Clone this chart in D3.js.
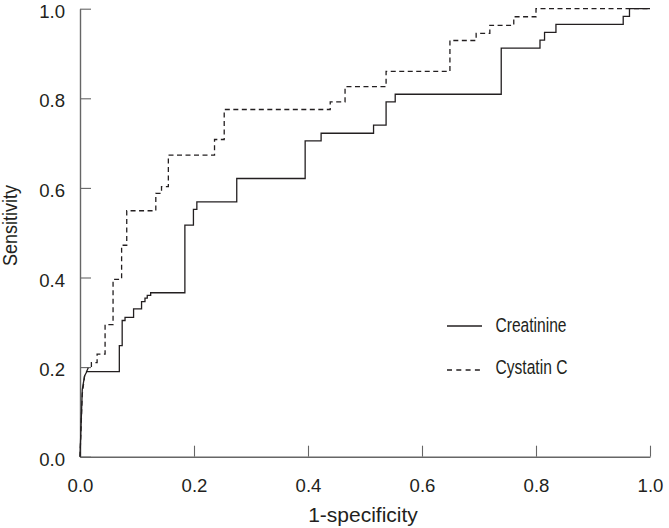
<!DOCTYPE html>
<html>
<head>
<meta charset="utf-8">
<script src="https://cdn.jsdelivr.net/npm/d3@7"></script>
<style>
  body { margin: 0; background: #fff; }
  text { font-family: "Liberation Sans", Arial, sans-serif; fill: #231f20; }
</style>
</head>
<body>
<svg id="chart" width="669" height="528"></svg>
<script>
// ROC curve step points, [1-specificity, sensitivity]
var creatinine = [
    [0, 0], [0.004, 0.15], [0.008, 0.18], [0.012, 0.19], [0.069, 0.19], [0.069, 0.248],
    [0.074, 0.248], [0.074, 0.304], [0.079, 0.304], [0.079, 0.311], [0.094, 0.311],
    [0.094, 0.33], [0.108, 0.33], [0.108, 0.346], [0.114, 0.346], [0.114, 0.354],
    [0.118, 0.354], [0.118, 0.36], [0.124, 0.36], [0.124, 0.366], [0.184, 0.366],
    [0.184, 0.517], [0.199, 0.517], [0.199, 0.552], [0.205, 0.552], [0.205, 0.569],
    [0.275, 0.569], [0.275, 0.621], [0.395, 0.621], [0.395, 0.705], [0.423, 0.705],
    [0.423, 0.722], [0.515, 0.722], [0.515, 0.74], [0.537, 0.74], [0.537, 0.792],
    [0.553, 0.792], [0.553, 0.809], [0.739, 0.809], [0.739, 0.912], [0.807, 0.912],
    [0.807, 0.93], [0.815, 0.93], [0.815, 0.947], [0.835, 0.947], [0.835, 0.965],
    [0.953, 0.965], [0.953, 0.983], [0.964, 0.983], [0.964, 1.0], [1.0, 1.0]
];

var cystatin = [
    [0, 0], [0.004, 0.14], [0.008, 0.18], [0.015, 0.2], [0.02, 0.2], [0.02, 0.21],
    [0.03, 0.21], [0.03, 0.229], [0.044, 0.229], [0.044, 0.295], [0.058, 0.295],
    [0.058, 0.396], [0.073, 0.396], [0.073, 0.472], [0.082, 0.472], [0.082, 0.549],
    [0.133, 0.549], [0.133, 0.588], [0.143, 0.588], [0.143, 0.603], [0.155, 0.603],
    [0.155, 0.673], [0.236, 0.673], [0.236, 0.708], [0.253, 0.708], [0.253, 0.775],
    [0.439, 0.775], [0.439, 0.792], [0.465, 0.792], [0.465, 0.826], [0.537, 0.826],
    [0.537, 0.86], [0.649, 0.86], [0.649, 0.929], [0.695, 0.929], [0.695, 0.945],
    [0.719, 0.945], [0.719, 0.963], [0.761, 0.963], [0.761, 0.982], [0.8, 0.982],
    [0.8, 1.0], [1.0, 1.0]
];

var ticks = [0, 0.2, 0.4, 0.6, 0.8, 1.0];
var seriesNames = ["Creatinine", "Cystatin C"];

var svg = d3.select("#chart");
var margin = {left: 80, right: 19, top: 8.7, bottom: 71.3};
var width = 669 - margin.left - margin.right;
var height = 528 - margin.top - margin.bottom;

var g = svg.append("g").attr("transform", "translate(" + margin.left + "," + margin.top + ")");

var x = d3.scaleLinear().domain([0, 1]).range([0, width]);
var y = d3.scaleLinear().domain([0, 1]).range([height, 0]);

// draws text squeezed horizontally (the original font is a condensed one)
function squeezedText(parent, tx, ty, sx, size, str, anchor, rotate){
    return parent.append("text")
        .attr("transform", "translate(" + tx + "," + ty + ")" + (rotate ? " rotate(-90)" : "") + " scale(" + sx + ",1)")
        .attr("text-anchor", anchor || "start")
        .style("font-size", size + "px")
        .text(str);
}

// axes, ticks pointing inward
var xAxis = g.append("g").attr("transform", "translate(0," + height + ")")
    .call(d3.axisBottom(x).tickValues(ticks).tickFormat(d3.format(".1f")).tickSizeInner(-11).tickSizeOuter(0));
var yAxis = g.append("g")
    .call(d3.axisLeft(y).tickValues(ticks).tickFormat(d3.format(".1f")).tickSizeInner(-11).tickSizeOuter(0));

[xAxis, yAxis].forEach(a => {
    a.select(".domain").attr("stroke", "#666").attr("stroke-width", 1.4);
    a.selectAll(".tick line").attr("stroke", "#666").attr("stroke-width", 1.1);
    a.selectAll(".tick text").style("font-size", "18.6px").attr("fill", "#231f20").attr("font-family", null);
});
xAxis.selectAll(".tick text").attr("y", 35).attr("dy", 0);
yAxis.selectAll(".tick text").attr("x", -15).attr("y", 8.5).attr("dy", 0);

// axis titles
squeezedText(svg, 363, 521.7, 1.0, 21, "1-specificity", "middle");
squeezedText(svg, 16.5, 225.5, 0.9, 20, "Sensitivity", "middle", true);

// curves
var line = d3.line().x(d => x(d[0])).y(d => y(d[1]));
g.append("path").datum(creatinine).attr("d", line)
    .attr("fill", "none").attr("stroke", "#231f20").attr("stroke-width", 1.3);
g.append("path").datum(cystatin).attr("d", line)
    .attr("fill", "none").attr("stroke", "#231f20").attr("stroke-width", 1.3).attr("stroke-dasharray", "5,3.5");

// legend
var legend = svg.append("g");
seriesNames.forEach((name, i) => {
    var ly = 326 + i * 44;
    legend.append("line").attr("x1", 447).attr("x2", 482).attr("y1", ly).attr("y2", ly)
        .attr("stroke", "#231f20").attr("stroke-width", 1.3)
        .attr("stroke-dasharray", i === 1 ? "5,4.3" : null);
    squeezedText(legend, 495.5, ly + (i === 0 ? 6.3 : 4), 0.8, 19.5, name);
});
</script>
</body>
</html>
